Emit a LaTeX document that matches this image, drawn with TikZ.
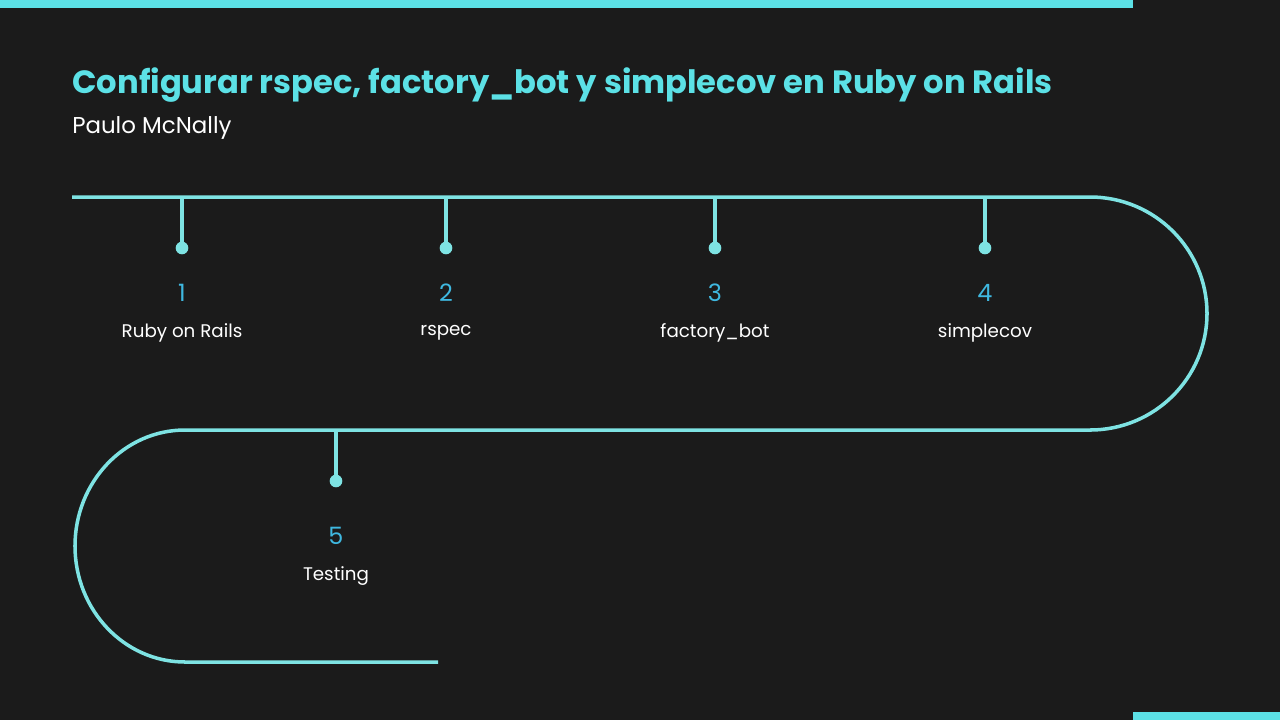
\documentclass[tikz,border=0pt]{standalone}
\usepackage{fontspec}
\setmainfont{Poppins}
\usetikzlibrary{positioning}
\definecolor{bg}{HTML}{1B1B1B}
\definecolor{teal}{HTML}{5CE1E6}
\definecolor{track}{HTML}{7EE3E3}
\definecolor{numblue}{HTML}{3FB8E0}
\begin{document}
\begin{tikzpicture}[x=0.25mm, y=-0.25mm,
	track line/.style={draw=track, line width=2.5pt},
	dot node/.style={circle, fill=track, inner sep=0pt, minimum size=9pt},
	num node/.style={text=numblue, font=\fontsize{17}{20}\selectfont, inner sep=0pt},
	label node/.style={text=white, font=\fontsize{13}{16}\selectfont, inner sep=0pt}]
	
	\fill[bg] (0,0) rectangle (1280,720);
	\fill[teal] (0,0) rectangle (1133,8);
	\fill[teal] (1133,712) rectangle (1280,720);
	
	\node[anchor=west, text=teal, inner sep=0pt, font=\bfseries\fontsize{22.9}{27}\selectfont] (title) at (72,85) {Configurar rspec, factory\_bot y simplecov en Ruby on Rails};
	\node[anchor=west, text=white, inner sep=0pt, font=\fontsize{16.3}{19}\selectfont] (author) at (72,128) {Paulo McNally};
	
	% track
	\draw[track line] (72,197) -- (1090,197) arc[start angle=-90, end angle=90, x radius=117, y radius=116.5]
	 -- (185,430) arc[start angle=270, end angle=90, x radius=110, y radius=116] -- (438,662);
	
	% milestones
	\foreach \x/\n/\txt in {182/1/Ruby on Rails, 446/2/rspec, 715/3/factory\_bot, 985/4/simplecov} {
		\coordinate (top\n) at (\x,197);
		\node[dot node] (dot\n) at (\x,248) {};
		\node[num node] (num\n) at (\x,293) {\n};
		\node[label node] (lab\n) at (\x,333) {\txt};
		\draw[track line] (top\n) -- (dot\n.center);
	}
	\coordinate (top5) at (336,430);
	\node[dot node] (dot5) at (336,481) {};
	\node[num node] (num5) at (336,536) {5};
	\node[label node] (lab5) at (336,576) {Testing};
	\draw[track line] (top5) -- (dot5.center);
\end{tikzpicture}
\end{document}
